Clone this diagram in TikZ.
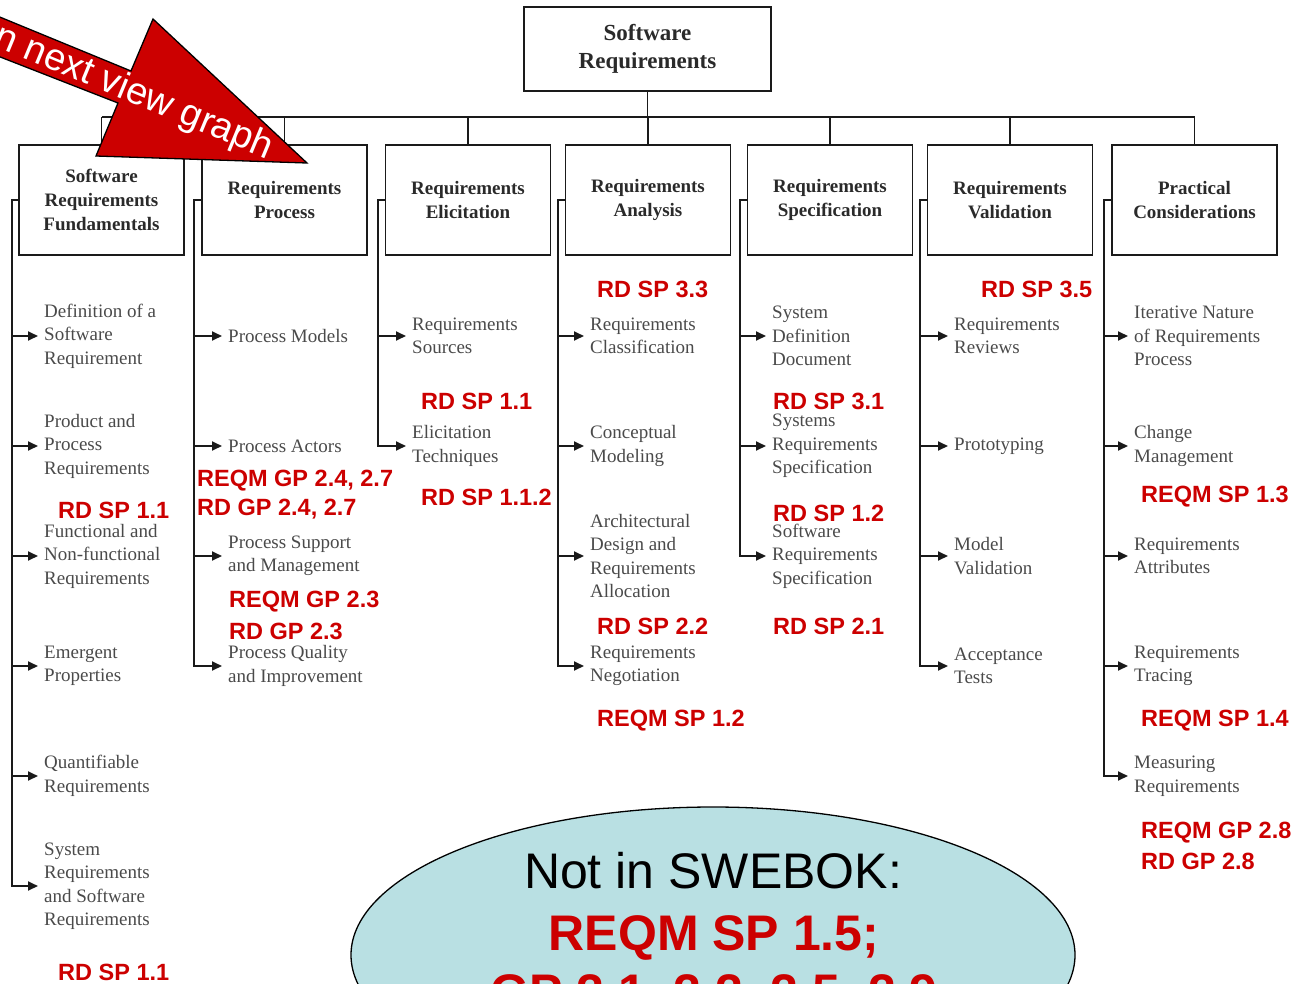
\documentclass[tikz,border=0pt]{standalone}
\usepackage{fontspec}
\setmainfont{Liberation Serif}
\newfontfamily\arialfont{Liberation Sans}
\usetikzlibrary{arrows.meta}
\definecolor{refred}{HTML}{CC0000}
\definecolor{titlecol}{HTML}{2A2A2A}
\definecolor{itemcol}{HTML}{4A4A4A}
\definecolor{bubble}{HTML}{B9E0E3}
\definecolor{frame}{HTML}{1A1A1A}
\tikzset{
  wire/.style={draw=frame, line width=1.8pt},
  topbox/.style={wire, minimum width=247pt, minimum height=84pt, inner sep=0pt,
    align=center, text=titlecol, font=\fontsize{23}{28}\selectfont\bfseries},
  areabox/.style={wire, minimum width=165pt, minimum height=110pt, inner sep=0pt,
    align=center, text=titlecol, font=\fontsize{19}{24}\selectfont\bfseries},
  item/.style={anchor=west, align=left, inner sep=0pt, text=itemcol,
    font=\fontsize{19}{23.5}\selectfont},
  ref/.style={anchor=west, inner sep=0pt, text=refred,
    font=\arialfont\bfseries\fontsize{23.5}{28}\selectfont},
  feed/.style={wire, -{Triangle[length=10pt,width=9pt]}, shorten >=6pt},
}
\begin{document}
\begin{tikzpicture}[x=1pt,y=-1pt]
\useasboundingbox (0,0) rectangle (1299,983);

% root and knowledge areas
\node[topbox] (top) at (647.5,49) {Software\\Requirements};
\node[areabox] (b1) at (101.5,200) {Software\\Requirements\\Fundamentals};
\node[areabox] (b2) at (284.5,200) {Requirements\\Process};
\node[areabox] (b3) at (468,200) {Requirements\\Elicitation};
\node[areabox] (b4) at (648,200) {Requirements\\Analysis};
\node[areabox] (b5) at (830,200) {Requirements\\Specification};
\node[areabox] (b6) at (1010,200) {Requirements\\Validation};
\node[areabox] (b7) at (1194.5,200) {Practical\\Considerations};

% bus from the root to every area
\coordinate (busL) at (101.5,117);
\coordinate (busR) at (1194.5,117);
\draw[wire] (busL) -- (busR);
\draw[wire] (top.south) -- (top.south |- busL);
\foreach \b in {b1,b2,b3,b4,b5,b6,b7}
  \draw[wire] (\b.north) -- (\b.north |- busL);

% topics of each area
\node[item] (i11) at (44,336) {Definition of a\\Software\\Requirement};
\node[item] (i12) at (44,446) {Product and\\Process\\Requirements};
\node[item] (i13) at (44,556) {Functional and\\Non-functional\\Requirements};
\node[item] (i14) at (44,666) {Emergent\\Properties};
\node[item] (i15) at (44,776) {Quantifiable\\Requirements};
\node[item] (i16) at (44,886) {System\\Requirements\\and Software\\Requirements};

\node[item] (i21) at (228,336) {Process Models};
\node[item] (i22) at (228,446) {Process Actors};
\node[item] (i23) at (228,556) {Process Support\\and Management};
\node[item] (i24) at (228,666) {Process Quality\\and Improvement};

\node[item] (i31) at (412,336) {Requirements\\Sources};
\node[item] (i32) at (412,446) {Elicitation\\Techniques};

\node[item] (i41) at (590,336) {Requirements\\Classification};
\node[item] (i42) at (590,446) {Conceptual\\Modeling};
\node[item] (i43) at (590,556) {Architectural\\Design and\\Requirements\\Allocation};
\node[item] (i44) at (590,666) {Requirements\\Negotiation};

\node[item] (i51) at (772,336) {System\\Definition\\Document};
\node[item] (i52) at (772,446) {Systems\\Requirements\\Specification};
\node[item] (i53) at (772,556) {Software\\Requirements\\Specification};

\node[item] (i61) at (954,336) {Requirements\\Reviews};
\node[item] (i62) at (954,446) {Prototyping};
\node[item] (i63) at (954,556) {Model\\Validation};
\node[item] (i64) at (954,666) {Acceptance\\Tests};

\node[item] (i71) at (1134,336) {Iterative Nature\\of Requirements\\Process};
\node[item] (i72) at (1134,446) {Change\\Management};
\node[item] (i73) at (1134,556) {Requirements\\Attributes};
\node[item] (i74) at (1134,666) {Requirements\\Tracing};
\node[item] (i75) at (1134,776) {Measuring\\Requirements};

% stems: area box -> topic list
\coordinate (s1) at (12,200);
\coordinate (s2) at (194,200);
\coordinate (s3) at (378,200);
\coordinate (s4) at (558,200);
\coordinate (s5) at (740,200);
\coordinate (s6) at (920,200);
\coordinate (s7) at (1104,200);

\draw[feed] (b1.west) -- (s1) |- (i16.west);
\foreach \i in {i11,i12,i13,i14,i15} \draw[feed] (s1 |- \i.west) -- (\i.west);
\draw[feed] (b2.west) -- (s2) |- (i24.west);
\foreach \i in {i21,i22,i23} \draw[feed] (s2 |- \i.west) -- (\i.west);
\draw[feed] (b3.west) -- (s3) |- (i32.west);
\draw[feed] (s3 |- i31.west) -- (i31.west);
\draw[feed] (b4.west) -- (s4) |- (i44.west);
\foreach \i in {i41,i42,i43} \draw[feed] (s4 |- \i.west) -- (\i.west);
\draw[feed] (b5.west) -- (s5) |- (i53.west);
\foreach \i in {i51,i52} \draw[feed] (s5 |- \i.west) -- (\i.west);
\draw[feed] (b6.west) -- (s6) |- (i64.west);
\foreach \i in {i61,i62,i63} \draw[feed] (s6 |- \i.west) -- (\i.west);
\draw[feed] (b7.west) -- (s7) |- (i75.west);
\foreach \i in {i71,i72,i73,i74} \draw[feed] (s7 |- \i.west) -- (\i.west);

% CMMI practice references
\node[ref] (r1) at (58,510) {RD SP 1.1};
\node[ref] (r2) at (58,972) {RD SP 1.1};
\node[ref] (r3) at (197,481) {REQM GP 2.4, 2.7};
\node[ref] (r4) at (197,509) {RD GP 2.4, 2.7};
\node[ref] (r5) at (229,602) {REQM GP 2.3};
\node[ref] (r6) at (229,631) {RD GP 2.3};
\node[ref] (r7) at (421,401) {RD SP 1.1};
\node[ref] (r8) at (421,497) {RD SP 1.1.2};
\node[ref] (r9) at (597,289) {RD SP 3.3};
\node[ref] (r10) at (597,626) {RD SP 2.2};
\node[ref] (r11) at (597,721) {REQM SP 1.2};
\node[ref] (r12) at (773,401) {RD SP 3.1};
\node[ref] (r13) at (773,513) {RD SP 1.2};
\node[ref] (r14) at (773,626) {RD SP 2.1};
\node[ref] (r15) at (981,289) {RD SP 3.5};
\node[ref] (r16) at (1141,497) {REQM SP 1.3};
\node[ref] (r17) at (1141,721) {REQM SP 1.4};
\node[ref] (r18) at (1141,833) {REQM GP 2.8};
\node[ref] (r19) at (1141,861) {RD GP 2.8};

% pointer to the next view graph
\draw[draw=black, line width=1.3pt, fill=refred, line join=miter]
  (-10,13) -- (131,71) -- (153,19) -- (307,163) -- (96,156) -- (118,103) -- (-10,53) -- cycle;
\node[anchor=west, inner sep=0pt, rotate=-22.5, text=white,
  font=\arialfont\fontsize{38}{44}\selectfont] (ptr) at (-4,36) {n next view graph};

% practices outside SWEBOK
\draw[draw=black, line width=1.3pt, fill=bubble] (713,955) ellipse [x radius=362pt, y radius=148pt];
\node[anchor=base, inner sep=0pt, font=\arialfont\fontsize{50}{60}\selectfont] (n1) at (713,888) {Not in SWEBOK:};
\node[anchor=base, inner sep=0pt, text=refred, font=\arialfont\bfseries\fontsize{50}{60}\selectfont] (n2) at (714,950) {REQM SP 1.5;};
\node[anchor=base, inner sep=0pt, text=refred, font=\arialfont\bfseries\fontsize{50}{60}\selectfont] (n3) at (714,1009) {GP 2.1, 2.2, 2.5, 2.9};
\end{tikzpicture}
\end{document}
